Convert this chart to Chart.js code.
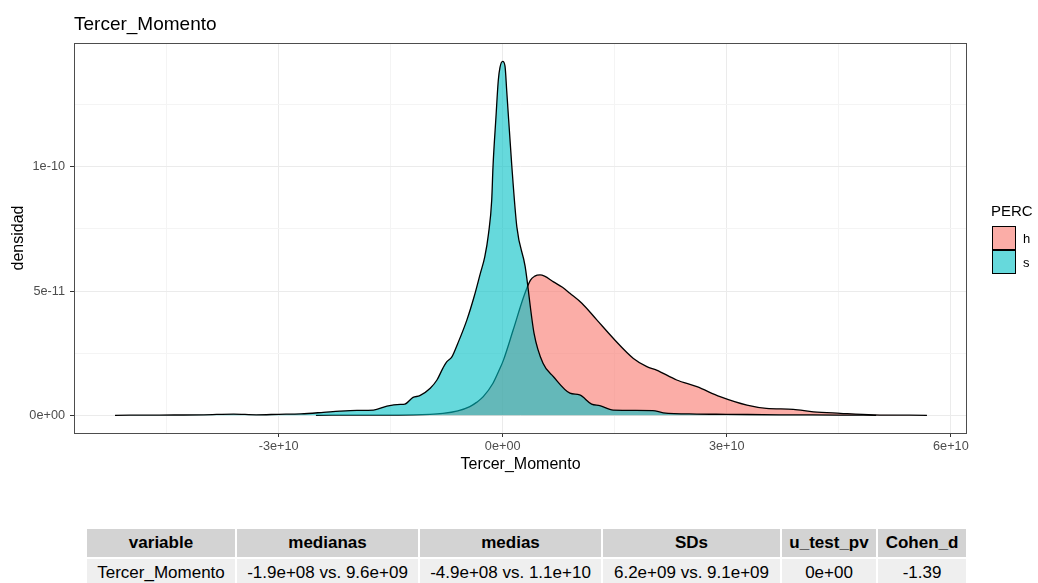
<!DOCTYPE html>
<html>
<head>
<meta charset="utf-8">
<script src="https://cdn.jsdelivr.net/npm/chart.js@4/dist/chart.umd.min.js"></script>
<style>
  body { margin: 0; background: #fff; font-family: "Liberation Sans", Arial, sans-serif; }
  #wrap { position: relative; width: 1038px; height: 583px; overflow: hidden; }
  #chart { position: absolute; left: 0; top: 0; }
  .plot-title { position: absolute; left: 74px; top: 14px; font-size: 19px; line-height: 19px; color: #000; white-space: nowrap; }
  .legend-title { position: absolute; left: 991px; top: 203px; font-size: 15px; line-height: 15px; color: #000; }
  .legend-key { position: absolute; left: 992px; width: 22px; height: 22px; border: 1px solid #000; }
  .legend-label { position: absolute; left: 1023px; font-size: 13px; line-height: 13px; color: #000; }
  table.stats { position: absolute; left: 85px; top: 527px; border-collapse: separate; border-spacing: 2px; font-size: 17px; color: #000; }
  table.stats th { background: #d3d3d3; font-weight: bold; height: 28px; padding: 0; text-align: center; }
  table.stats td { background: #efefef; height: 27px; padding: 0; text-align: center; }
</style>
</head>
<body>
<div id="wrap">
  <canvas id="chart" width="1038" height="490"></canvas>
  <div class="plot-title">Tercer_Momento</div>
  <div id="legend"></div>
  <table class="stats" id="stats"></table>
</div>
<script>
// Density curves (x = Tercer_Momento, y = densidad)
const hX = [-2.5e10, -1.8e10, -1.2e10, -0.8e10, -0.6e10, -0.44e10, -0.35e10, -0.26e10, -0.13e10, -0.05e10,
  0.01e10, 0.14e10, 0.28e10, 0.37e10, 0.43e10, 0.5e10, 0.56e10, 0.68e10, 0.8e10, 0.9e10,
  1.06e10, 1.26e10, 1.48e10, 1.75e10, 1.93e10, 2.06e10, 2.33e10, 2.6e10, 2.91e10, 3.27e10,
  3.53e10, 3.89e10, 4.16e10, 4.52e10, 4.96e10, 5.68e10];
const hY = [0, 0.01e-11, 0.02e-11, 0.08e-11, 0.18e-11, 0.35e-11, 0.52e-11, 0.75e-11, 1.29e-11, 1.8e-11,
  2.22e-11, 3.43e-11, 4.76e-11, 5.43e-11, 5.6e-11, 5.65e-11, 5.6e-11, 5.37e-11, 5.15e-11, 4.91e-11,
  4.51e-11, 3.84e-11, 3.1e-11, 2.29e-11, 1.96e-11, 1.82e-11, 1.42e-11, 1.15e-11, 0.75e-11, 0.41e-11,
  0.28e-11, 0.24e-11, 0.14e-11, 0.08e-11, 0.02e-11, 0];

const sX = [-5.19e10, -4.6e10, -4.0e10, -3.6e10, -3.3e10, -3.0e10, -2.7e10, -2.4e10, -2.18e10, -1.95e10,
  -1.73e10, -1.55e10, -1.37e10, -1.31e10, -1.2e10, -1.11e10, -0.97e10, -0.88e10, -0.8e10, -0.75e10,
  -0.68e10, -0.6e10, -0.48e10, -0.38e10, -0.3e10, -0.24e10, -0.19e10, -0.147e10, -0.13e10, -0.09e10,
  -0.059e10, -0.036e10, 0, 0.031e10, 0.054e10, 0.12e10, 0.19e10, 0.3e10, 0.42e10, 0.54e10,
  0.68e10, 0.9e10, 1.03e10, 1.19e10, 1.3e10, 1.48e10, 2.01e10, 2.15e10, 2.6e10, 3.0e10,
  3.7e10, 4.5e10, 5.0e10];
const sY = [0, 0.01e-11, 0.02e-11, 0.05e-11, 0.02e-11, 0.04e-11, 0.06e-11, 0.12e-11, 0.17e-11, 0.2e-11,
  0.21e-11, 0.37e-11, 0.44e-11, 0.45e-11, 0.72e-11, 0.79e-11, 1.09e-11, 1.42e-11, 1.9e-11, 2.15e-11,
  2.35e-11, 2.9e-11, 3.83e-11, 4.8e-11, 5.7e-11, 6.37e-11, 7.3e-11, 8.65e-11, 9.98e-11, 12.0e-11,
  13.47e-11, 14.0e-11, 14.24e-11, 14.05e-11, 13.06e-11, 10.12e-11, 7.57e-11, 6.0e-11, 3.3e-11, 2.09e-11,
  1.55e-11, 0.89e-11, 0.82e-11, 0.45e-11, 0.39e-11, 0.21e-11, 0.19e-11, 0.1e-11, 0.05e-11, 0.04e-11,
  0.02e-11, 0.01e-11, 0];

const seriesNames = ['h', 's'];
const seriesFills = ['rgba(248, 118, 109, 0.6)', 'rgba(0, 191, 196, 0.6)'];

const xTickValues = [-3e10, 0, 3e10, 6e10];
const xTickLabels = ['-3e+10', '0e+00', '3e+10', '6e+10'];
const xMinorValues = [-4.5e10, -1.5e10, 1.5e10, 4.5e10];
const yTickValues = [0, 5e-11, 1e-10];
const yTickLabels = ['0e+00', '5e-11', '1e-10'];
const yMinorValues = [2.5e-11, 7.5e-11, 1.25e-10];

const tableHeaders = ['variable', 'medianas', 'medias', 'SDs', 'u_test_pv', 'Cohen_d'];
const tableRow = ['Tercer_Momento', '-1.9e+08 vs. 9.6e+09', '-4.9e+08 vs. 1.1e+10', '6.2e+09 vs. 9.1e+09', '0e+00', '-1.39'];
const tableWidths = [148, 181, 181, 177, 94, 88];

function toPoints(xs, ys) {
  return xs.map((x, i) => ({ x: x, y: ys[i] }));
}

function buildTicks(major, minor) {
  return major.map(v => ({ value: v, minor: false }))
    .concat(minor.map(v => ({ value: v, minor: true })))
    .sort((a, b) => a.value - b.value);
}

function gridColor(ctx) {
  return ctx.tick && ctx.tick.minor ? '#f4f4f4' : '#ebebeb';
}

function tickMarkColor(ctx) {
  return ctx.tick && ctx.tick.minor ? 'rgba(0,0,0,0)' : '#333333';
}

// ggplot-like panel border around the chart area
const panelBorder = {
  id: 'panelBorder',
  afterDraw(chart) {
    const { ctx, chartArea } = chart;
    ctx.save();
    ctx.strokeStyle = '#4d4d4d';
    ctx.lineWidth = 1;
    ctx.strokeRect(Math.round(chartArea.left) + 0.5, Math.round(chartArea.top) + 0.5,
      Math.round(chartArea.right - chartArea.left) - 1, Math.round(chartArea.bottom - chartArea.top));
    ctx.restore();
  }
};

const tickFont = { family: '"Liberation Sans", Arial, sans-serif', size: 12.7 };
const titleFont = { family: '"Liberation Sans", Arial, sans-serif', size: 16 };

new Chart(document.getElementById('chart').getContext('2d'), {
  type: 'line',
  data: {
    datasets: [
      {
        label: seriesNames[0],
        data: toPoints(hX, hY),
        backgroundColor: seriesFills[0],
        borderColor: '#000',
        borderWidth: 1.3,
        fill: 'origin',
        pointRadius: 0,
        cubicInterpolationMode: 'monotone',
        order: 1
      },
      {
        label: seriesNames[1],
        data: toPoints(sX, sY),
        backgroundColor: seriesFills[1],
        borderColor: '#000',
        borderWidth: 1.3,
        fill: 'origin',
        pointRadius: 0,
        cubicInterpolationMode: 'monotone',
        order: 0
      }
    ]
  },
  options: {
    responsive: false,
    animation: false,
    devicePixelRatio: 1,
    layout: { padding: { top: 43, right: 71, left: 0, bottom: 0 } },
    plugins: {
      legend: { display: false },
      tooltip: { enabled: false }
    },
    scales: {
      x: {
        type: 'linear',
        min: -5.739e10,
        max: 6.216e10,
        afterBuildTicks: scale => { scale.ticks = buildTicks(xTickValues, xMinorValues); },
        afterFit: scale => { scale.height = 57; },
        ticks: {
          autoSkip: false,
          maxRotation: 0,
          padding: 2,
          color: '#4d4d4d',
          font: tickFont,
          callback: value => {
            const i = xTickValues.indexOf(value);
            return i >= 0 ? xTickLabels[i] : '';
          }
        },
        grid: { color: gridColor, lineWidth: 1, tickColor: tickMarkColor, tickLength: 4 },
        border: { display: false },
        title: { display: true, text: 'Tercer_Momento', color: '#000', font: titleFont, padding: { top: 0, bottom: 16 } }
      },
      y: {
        type: 'linear',
        min: -0.712e-11,
        max: 14.98e-11,
        afterBuildTicks: scale => { scale.ticks = buildTicks(yTickValues, yMinorValues); },
        afterFit: scale => { scale.width = 74; },
        ticks: {
          autoSkip: false,
          padding: 5,
          color: '#4d4d4d',
          font: tickFont,
          callback: value => {
            const i = yTickValues.indexOf(value);
            return i >= 0 ? yTickLabels[i] : '';
          }
        },
        grid: { color: gridColor, lineWidth: 1, tickColor: tickMarkColor, tickLength: 4 },
        border: { display: false },
        title: { display: true, text: 'densidad', color: '#000', font: titleFont, padding: { top: 9, bottom: 0 } }
      }
    }
  },
  plugins: [panelBorder]
});

// Legend (PERC) on the right
function buildLegend() {
  const legend = document.getElementById('legend');
  const title = document.createElement('div');
  title.className = 'legend-title';
  title.textContent = 'PERC';
  legend.appendChild(title);
  seriesNames.forEach((name, i) => {
    const key = document.createElement('div');
    key.className = 'legend-key';
    key.style.top = (226 + i * 24) + 'px';
    key.style.background = seriesFills[i];
    legend.appendChild(key);
    const label = document.createElement('div');
    label.className = 'legend-label';
    label.style.top = (232 + i * 24) + 'px';
    label.textContent = name;
    legend.appendChild(label);
  });
}

// Summary table below the plot
function buildTable() {
  const table = document.getElementById('stats');
  const head = document.createElement('tr');
  tableHeaders.forEach((h, i) => {
    const th = document.createElement('th');
    th.textContent = h;
    th.style.width = tableWidths[i] + 'px';
    head.appendChild(th);
  });
  table.appendChild(head);
  const row = document.createElement('tr');
  tableRow.forEach(v => {
    const td = document.createElement('td');
    td.textContent = v;
    row.appendChild(td);
  });
  table.appendChild(row);
}

buildLegend();
buildTable();
</script>
</body>
</html>
